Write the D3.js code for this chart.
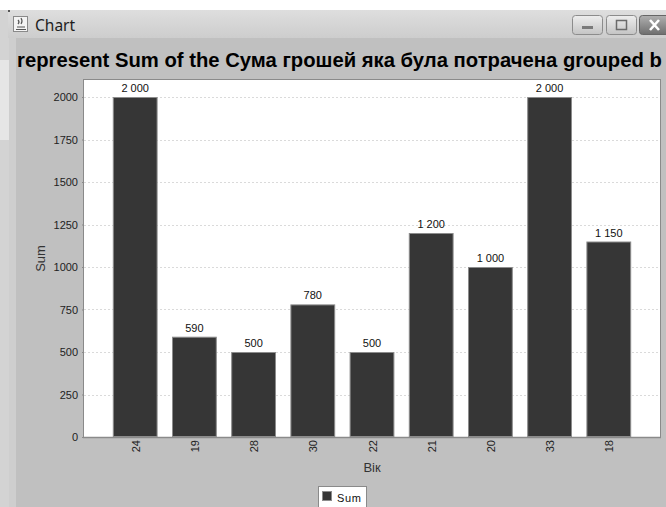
<!DOCTYPE html>
<html>
<head>
<meta charset="utf-8">
<script src="https://cdn.jsdelivr.net/npm/d3@7/dist/d3.min.js"></script>
<style>
  html, body { margin: 0; padding: 0; background: #ffffff; }
  svg { display: block; }
</style>
</head>
<body>
<script>
// ---- data ----
const categories = ["24", "19", "28", "30", "22", "21", "20", "33", "18"];
const sums = [2000, 590, 500, 780, 500, 1200, 1000, 2000, 1150];
const yTicks = [0, 250, 500, 750, 1000, 1250, 1500, 1750, 2000];
const seriesName = "Sum";
const windowTitle = "Chart";
const chartTitle = "represent Sum of the Сума грошей яка була потрачена grouped b";
const xTitle = "Вік";
const yTitle = "Sum";

const W = 666, H = 507;
const svg = d3.select("body").append("svg").attr("width", W).attr("height", H);
const FONT = "'Liberation Sans', Arial, sans-serif";

// ---- window chrome ----
const defs = svg.append("defs");
const tb = defs.append("linearGradient").attr("id", "tbg").attr("x1", 0).attr("y1", 0).attr("x2", 0).attr("y2", 1);
tb.append("stop").attr("offset", "0").attr("stop-color", "#dedede");
tb.append("stop").attr("offset", "1").attr("stop-color", "#cdcdcd");
const bg = defs.append("linearGradient").attr("id", "btn").attr("x1", 0).attr("y1", 0).attr("x2", 0).attr("y2", 1);
bg.append("stop").attr("offset", "0").attr("stop-color", "#eeeeee");
bg.append("stop").attr("offset", "1").attr("stop-color", "#c4c4c4");
const cg = defs.append("linearGradient").attr("id", "cls").attr("x1", 0).attr("y1", 0).attr("x2", 0).attr("y2", 1);
cg.append("stop").attr("offset", "0").attr("stop-color", "#b0b0b0");
cg.append("stop").attr("offset", "1").attr("stop-color", "#6e6e6e");

svg.append("rect").attr("x", 0).attr("y", 10).attr("width", W).attr("height", H - 10).attr("fill", "#d3d3d3");
svg.append("rect").attr("x", 8).attr("y", 10).attr("width", W - 8).attr("height", 28).attr("fill", "url(#tbg)");
svg.append("rect").attr("x", 8).attr("y", 10).attr("width", 2).attr("height", 2).attr("fill", "#555");
svg.append("rect").attr("x", 0).attr("y", 60).attr("width", 9).attr("height", 80).attr("fill", "#e6e6e6");
svg.append("rect").attr("x", 9).attr("y", 38).attr("width", 7).attr("height", H - 38).attr("fill", "#cecece");

// java icon
const ic = svg.append("g");
ic.append("rect").attr("x", 13.5).attr("y", 16.5).attr("width", 14).attr("height", 15).attr("fill", "#f4f4f4").attr("stroke", "#8a8a8a");
ic.append("path").attr("d", "M17,27 h8 M16,29.5 h10 M18,24 q2,-2 0,-4 M21,24 q2,-3 0,-6").attr("stroke", "#555").attr("fill", "none").attr("stroke-width", 1.2);
svg.append("text").attr("x", 35).attr("y", 31).attr("font-family", "'Noto Sans', 'Open Sans', sans-serif")
  .attr("font-size", 15.5).attr("fill", "#1e1e1e").text(windowTitle);

// buttons
svg.append("rect").attr("x", 572.5).attr("y", 15.5).attr("width", 30).attr("height", 19).attr("rx", 3).attr("fill", "url(#btn)").attr("stroke", "#8c8c8c");
svg.append("rect").attr("x", 582).attr("y", 26).attr("width", 11).attr("height", 3).attr("fill", "#7a7a7a");
svg.append("rect").attr("x", 606.5).attr("y", 15.5).attr("width", 30).attr("height", 19).attr("rx", 3).attr("fill", "url(#btn)").attr("stroke", "#8c8c8c");
svg.append("rect").attr("x", 616.5).attr("y", 20.5).attr("width", 10).attr("height", 9).attr("fill", "none").attr("stroke", "#6a6a6a").attr("stroke-width", 1.5);
svg.append("rect").attr("x", 639.5).attr("y", 15.5).attr("width", 40).attr("height", 19).attr("rx", 3).attr("fill", "url(#cls)").attr("stroke", "#666");
svg.append("path").attr("d", "M650,20 l9,10 M659,20 l-9,10").attr("stroke", "#ffffff").attr("stroke-width", 2.6);

// panel
svg.append("rect").attr("x", 16).attr("y", 38).attr("width", W - 16).attr("height", H - 38).attr("fill", "#c0c0c0");

// ---- title (fit so it ends just inside the right edge) ----
const titleText = svg.append("text").attr("x", 17).attr("y", 67)
  .attr("font-family", FONT).attr("font-weight", "bold").attr("font-size", 18).attr("fill", "#000")
  .text(chartTitle);
const tw = titleText.node().getComputedTextLength();
if (tw > 0) titleText.attr("font-size", 18 * (645 / tw));

// ---- plot ----
const plot = { left: 84, top: 80, right: 660, bottom: 437 };
const pwid = plot.right - plot.left;

svg.append("rect").attr("x", plot.left).attr("y", plot.top).attr("width", pwid).attr("height", plot.bottom - plot.top).attr("fill", "#ffffff");

const y = d3.scaleLinear().domain([0, 2100]).range([plot.bottom, plot.top]);

// category layout (5% margins, 20% category gap)
const outer = 0.05 * pwid;
const gapTotal = 0.2 * pwid;
const n = categories.length;
const bw = (pwid - 2 * outer - gapTotal) / n;
const step = bw + gapTotal / (n - 1);
const x = d3.scaleBand().domain(categories)
  .range([plot.left + outer, plot.right - outer])
  .paddingInner((gapTotal / (n - 1)) / step)
  .paddingOuter(0);

// grid
svg.append("g").selectAll("line").data(yTicks.filter(d => d > 0)).join("line")
  .attr("x1", plot.left).attr("x2", plot.right)
  .attr("y1", d => Math.round(y(d)) + 0.5).attr("y2", d => Math.round(y(d)) + 0.5)
  .attr("stroke", "#dadada").attr("stroke-width", 1).attr("stroke-dasharray", "2,2");

// bars
const fmt = d3.formatLocale({ decimal: ",", thousands: "\u00a0", grouping: [3], currency: ["", ""] }).format(",d");
svg.append("g").selectAll("rect").data(categories).join("rect")
  .attr("x", d => x(d) + 0.5)
  .attr("y", (d, i) => y(sums[i]) + 0.5)
  .attr("width", x.bandwidth() - 1)
  .attr("height", (d, i) => y(0) - y(sums[i]) - 1)
  .attr("fill", "#363636").attr("stroke", "#8c8c8c").attr("stroke-width", 1);

svg.append("g").selectAll("text").data(categories).join("text")
  .attr("x", d => x(d) + x.bandwidth() / 2)
  .attr("y", (d, i) => y(sums[i]) - 5)
  .attr("text-anchor", "middle").attr("font-family", FONT).attr("font-size", 11).attr("fill", "#111")
  .text((d, i) => fmt(sums[i]));

// plot border
svg.append("rect").attr("x", plot.left - 0.5).attr("y", plot.top - 0.5).attr("width", pwid + 1).attr("height", plot.bottom - plot.top + 1)
  .attr("fill", "none").attr("stroke", "#8a8a8a").attr("stroke-width", 1);
svg.append("line").attr("x1", plot.left - 1).attr("x2", plot.right + 1).attr("y1", plot.bottom + 0.5).attr("y2", plot.bottom + 0.5)
  .attr("stroke", "#8a8a8a").attr("stroke-width", 1.5);

// y axis
const yAxis = d3.axisLeft(y).tickValues(yTicks).tickSize(2).tickPadding(4).tickFormat(d3.format("d"));
const ya = svg.append("g").attr("transform", `translate(${plot.left},0)`).call(yAxis);
ya.select(".domain").remove();
ya.selectAll(".tick line").attr("stroke", "#8a8a8a");
ya.selectAll(".tick text").attr("font-family", FONT).attr("font-size", 11).attr("fill", "#222");

// x axis labels
const xAxis = d3.axisBottom(x).tickSize(0).tickPadding(0);
const xa = svg.append("g").attr("transform", `translate(0,${plot.bottom})`).call(xAxis);
xa.select(".domain").remove();
xa.selectAll(".tick text")
  .attr("font-family", FONT).attr("font-size", 11).attr("fill", "#222")
  .attr("text-anchor", "end").attr("dy", null).attr("y", 0)
  .attr("transform", "translate(0.5,3) rotate(-90)")
  .attr("dominant-baseline", "central");

// axis titles
svg.append("text").attr("x", (plot.left + plot.right) / 2).attr("y", 472)
  .attr("text-anchor", "middle").attr("font-family", FONT).attr("font-size", 13).attr("fill", "#333").text(xTitle);
svg.append("text").attr("transform", "translate(45,258.5) rotate(-90)")
  .attr("text-anchor", "middle").attr("font-family", FONT).attr("font-size", 13).attr("fill", "#333").text(yTitle);

// legend
svg.append("rect").attr("x", 318.5).attr("y", 486.5).attr("width", 48).attr("height", 24).attr("fill", "#ffffff").attr("stroke", "#8a8a8a");
svg.append("rect").attr("x", 322.5).attr("y", 491.5).attr("width", 9).attr("height", 9).attr("fill", "#363636").attr("stroke", "#8c8c8c");
svg.append("text").attr("x", 337).attr("y", 502).attr("font-family", FONT).attr("font-size", 11)
  .attr("letter-spacing", 0.6).attr("fill", "#111").text(seriesName);
</script>
</body>
</html>
